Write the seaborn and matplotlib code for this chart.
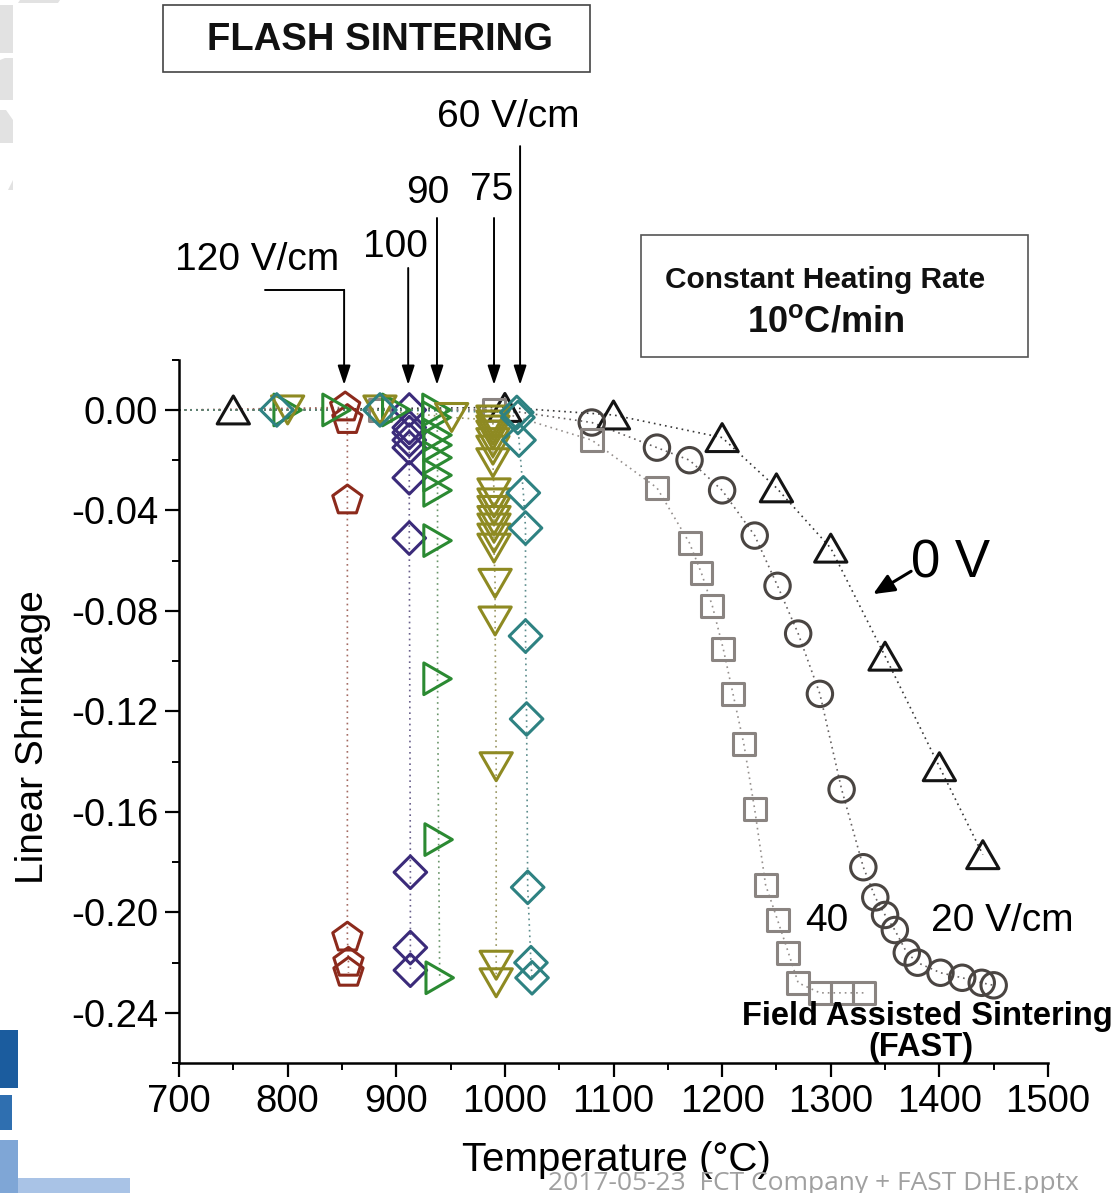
import numpy as np
import pandas as pd
import matplotlib
matplotlib.use("Agg")
import matplotlib.pyplot as plt
import seaborn as sns
from matplotlib.path import Path
from matplotlib.markers import MarkerStyle
from matplotlib.patches import Rectangle, Polygon
from matplotlib.ticker import MultipleLocator

# ---------------- data (temperature in °C, linear shrinkage) ----------------
# first "lead" points of each series only carry the dotted line (no marker)
t_0v = [700, 750, 1000, 1100, 1200, 1250, 1300, 1350, 1400, 1440]
s_0v = [0.000, 0.000, 0.001, -0.002, -0.011, -0.031, -0.055, -0.098, -0.142, -0.177]

t_20 = [700, 1000, 1080, 1140, 1170, 1200, 1230, 1251, 1270, 1290, 1310, 1330,
        1341, 1350, 1359, 1370, 1380, 1401, 1421, 1439, 1450]
s_20 = [0.000, 0.000, -0.005, -0.015, -0.020, -0.032, -0.050, -0.070, -0.089, -0.113,
        -0.151, -0.182, -0.194, -0.201, -0.207, -0.216, -0.220, -0.224, -0.226, -0.228, -0.229]

t_40 = [700, 885, 990, 1080, 1140, 1170, 1181, 1191, 1201, 1210, 1220, 1230, 1240,
        1251, 1261, 1270, 1290, 1310, 1331]
s_40 = [0.000, 0.000, 0.000, -0.012, -0.031, -0.053, -0.065, -0.078, -0.095, -0.113,
        -0.133, -0.159, -0.189, -0.203, -0.216, -0.228, -0.232, -0.232, -0.232]

t_60 = [700, 790, 885, 1011, 1012, 1013, 1017, 1019, 1019, 1020, 1021, 1024, 1025]
s_60 = [0.000, 0.000, 0.000, -0.001, -0.003, -0.012, -0.033, -0.047, -0.090, -0.123,
        -0.190, -0.220, -0.226]

t_75 = [700, 800, 885, 951, 989, 989, 989, 989, 989, 989, 989,
        990, 990, 990, 990, 990, 990, 990, 991, 991, 992, 992, 992]
s_75 = [0.000, 0.000, 0.000, -0.003, -0.004, -0.006, -0.008, -0.010, -0.013, -0.016, -0.021,
        -0.033, -0.037, -0.040, -0.044, -0.047, -0.051, -0.055, -0.069, -0.084, -0.142,
        -0.221, -0.228]

t_90 = [700, 800, 845, 900, 937, 937, 938, 938, 938, 938, 938, 938, 938, 939, 940]
s_90 = [0.000, 0.000, 0.000, 0.000, 0.000, -0.003, -0.010, -0.014, -0.019, -0.026,
        -0.032, -0.052, -0.107, -0.171, -0.226]

t_100 = [700, 912, 912, 912, 912, 912, 912, 912, 913, 913, 913]
s_100 = [0.000, 0.000, -0.007, -0.009, -0.012, -0.015, -0.027, -0.051, -0.184, -0.214, -0.223]

t_120 = [700, 853, 855, 855, 855, 856, 856]
s_120 = [0.000, 0.001, -0.004, -0.036, -0.210, -0.220, -0.224]

x_ticks = [700, 800, 900, 1000, 1100, 1200, 1300, 1400, 1500]
x_tick_labels = ["700", "800", "900", "1000", "1100", "1200", "1300", "1400", "1500"]
y_ticks = [0.00, -0.04, -0.08, -0.12, -0.16, -0.20, -0.24]
y_tick_labels = ["0.00", "-0.04", "-0.08", "-0.12", "-0.16", "-0.20", "-0.24"]

# ---------------- styling ----------------
sns.set_theme(style="white")
plt.rcParams["font.family"] = ["Liberation Sans", "DejaVu Sans"]
plt.rcParams["mathtext.fontset"] = "custom"
plt.rcParams["mathtext.rm"] = "Liberation Sans"
plt.rcParams["mathtext.bf"] = "Liberation Sans:bold"
SANS = ["Liberation Sans", "DejaVu Sans"]

W, H = 1118, 1193
fig = plt.figure(figsize=(W / 100, H / 100), dpi=100)
fig.patch.set_facecolor("white")


def fx(px):
    return px / W


def fy(py):
    return 1 - py / H


ax = fig.add_axes([fx(179), fy(1063.2), 869 / W, 703.5 / H])
ax.set_facecolor("white")


def tri(kind):
    if kind == "up":
        v = [(0, 0.433), (-0.5, -0.433), (0.5, -0.433), (0, 0.433)]
    elif kind == "down":
        v = [(0, -0.433), (-0.5, 0.433), (0.5, 0.433), (0, -0.433)]
    else:  # right
        v = [(0.433, 0), (-0.433, 0.5), (-0.433, -0.5), (0.433, 0)]
    return MarkerStyle(Path(v, [1, 2, 2, 79]))


series = [
    # t, s, lead, marker, size, color, line color
    (t_0v, s_0v, 1, tri("up"), 540, "#141414", "#222222"),
    (t_20, s_20, 2, "o", 335, "#4a4542", "#555050"),
    (t_40, s_40, 1, "s", 250, "#8a8481", "#8a8481"),
    (t_120, s_120, 1, "p", 490, "#8c2a1c", "#9a5a50"),
    (t_100, s_100, 1, "D", 275, "#3b2b7a", "#5a5080"),
    (t_90, s_90, 1, tri("right"), 520, "#2b8a32", "#5a8a5a"),
    (t_75, s_75, 1, tri("down"), 540, "#8e8a22", "#8e8a50"),
    (t_60, s_60, 1, "D", 275, "#2e8282", "#4a8080"),
]

for t, s, lead, mk, size, col, lcol in series:
    df = pd.DataFrame({"T": t, "S": s})
    sns.lineplot(data=df, x="T", y="S", sort=False, estimator=None, ax=ax,
                 color=lcol, linewidth=1.2, linestyle=(0, (1, 2.4)), alpha=0.9, zorder=2)

for t, s, lead, mk, size, col, lcol in series:
    dm = pd.DataFrame({"T": t[lead:], "S": s[lead:]})
    sns.scatterplot(data=dm, x="T", y="S", ax=ax, marker=mk, s=size,
                    facecolor="none", edgecolor=col, linewidth=2.2, zorder=3,
                    clip_on=False)

ax.set_xlim(700, 1500)
ax.set_ylim(-0.26, 0.02)
ax.set_xticks(x_ticks)
ax.set_xticklabels(x_tick_labels, fontfamily=SANS, fontsize=27.5)
ax.set_yticks(y_ticks)
ax.set_yticklabels(y_tick_labels, fontfamily=SANS, fontsize=27.5)
ax.xaxis.set_minor_locator(MultipleLocator(50))
ax.yaxis.set_minor_locator(MultipleLocator(0.02))
ax.tick_params(axis="both", which="major", direction="out", length=10, width=1.6,
               color="black", labelcolor="black", pad=5, bottom=True, left=True)
ax.tick_params(axis="both", which="minor", direction="out", length=5, width=1.4,
               color="black", bottom=True, left=True)
for side in ["top", "right"]:
    ax.spines[side].set_visible(False)
for side in ["left", "bottom"]:
    ax.spines[side].set_color("black")
    ax.spines[side].set_linewidth(1.8)
ax.grid(False)

ax.set_xlabel("Temperature (°C)", fontfamily=SANS, fontsize=29, color="black")
ax.set_ylabel("Linear Shrinkage", fontfamily=SANS, fontsize=28, color="black")
ax.xaxis.set_label_coords((616 - 179) / 869, (1063 - 1160) / 703.5)
ax.xaxis.label.set_va("center")
ax.yaxis.set_label_coords((33 - 179) / 869, (1063 - 737) / 703.5)
ax.yaxis.label.set_va("center")

# ---------------- annotations ----------------
lab_kw = dict(fontsize=28, color="black", ha="center", va="center",
              annotation_clip=False)
arrow_kw = dict(arrowstyle="-|>,head_length=0.9,head_width=0.3", color="black",
                lw=1.4, mutation_scale=13, shrinkA=0, shrinkB=0)

ax.annotate("120 V/cm", xy=(772, 0.0597), **lab_kw)
ax.annotate("100", xy=(899, 0.0649), **lab_kw)
ax.annotate("90", xy=(929, 0.0864), **lab_kw)
ax.annotate("75", xy=(988, 0.0876), **lab_kw)
ax.annotate("60 V/cm", xy=(1003, 0.1166), **lab_kw)

ax.plot([779, 852], [0.0478, 0.0478], color="black", lw=1.4, clip_on=False)
for xa, ytop in [(852, 0.0478), (911, 0.0565), (937.5, 0.0764), (990, 0.0764),
                 (1014, 0.105)]:
    ax.annotate("", xy=(xa, 0.010), xytext=(xa, ytop), arrowprops=arrow_kw,
                annotation_clip=False)

ax.annotate("0 V", xy=(1410, -0.061), fontsize=38, ha="center", va="center",
            color="black", annotation_clip=False)
ax.annotate("", xy=(1339, -0.0733), xytext=(1374, -0.0642),
            arrowprops=dict(arrowstyle="-|>,head_length=0.8,head_width=0.35",
                            color="black", lw=2.2, mutation_scale=16,
                            shrinkA=0, shrinkB=0), annotation_clip=False)
ax.annotate("40", xy=(1296, -0.2034), **lab_kw)
ax.annotate("20 V/cm", xy=(1458, -0.2034), **lab_kw)
ax.annotate("Field Assisted Sintering", xy=(1389, -0.2416), fontsize=23.5,
            fontweight="bold", ha="center", va="center", color="black",
            annotation_clip=False)
ax.annotate("(FAST)", xy=(1383, -0.2539), fontsize=23.5, fontweight="bold",
            ha="center", va="center", color="black", annotation_clip=False)

# boxed titles (figure coordinates)
fig.add_artist(Rectangle((fx(163), fy(72)), 427 / W, 67 / H, transform=fig.transFigure,
                         fill=False, lw=1.2, ec="#444444"))
fig.text(fx(380), fy(40), "FLASH SINTERING", fontsize=27.5, fontweight="bold",
         ha="center", va="center", color="#111111")
fig.add_artist(Rectangle((fx(641), fy(357)), 387 / W, 122 / H, transform=fig.transFigure,
                         fill=False, lw=1.2, ec="#555555"))
fig.text(fx(825), fy(280), "Constant Heating Rate", fontsize=21.5, fontweight="bold",
         ha="center", va="center", color="#111111")
fig.text(fx(826), fy(322), r"10$^{\mathbf{o}}$C/min", fontsize=26, fontweight="bold",
         ha="center", va="center", color="#111111")

# slide decorations
for pts in [[(0, 5), (13, 5), (13, 53), (0, 53)],
            [(0, 60), (5, 58), (13, 58), (13, 100), (0, 100)],
            [(0, 110), (6, 110), (13, 120), (13, 143), (0, 143)],
            [(8, 190), (13, 180), (13, 190)],
            [(20, 0), (60, 0), (58, 3), (18, 3)]]:
    fig.add_artist(Polygon([(fx(a), fy(b)) for a, b in pts], closed=True,
                           transform=fig.transFigure, fc="#e2e2e2", ec="none", zorder=0))
for pts, c in [([(0, 1030), (18, 1030), (18, 1088), (0, 1088)], "#1b5c9e"),
               ([(0, 1095), (12, 1095), (12, 1130), (0, 1130)], "#2f6fb0"),
               ([(0, 1140), (18, 1140), (18, 1193), (0, 1193)], "#7fa6d6"),
               ([(18, 1178), (130, 1178), (130, 1193), (18, 1193)], "#a9c3e6")]:
    fig.add_artist(Polygon([(fx(a), fy(b)) for a, b in pts], closed=True,
                           transform=fig.transFigure, fc=c, ec="none", zorder=0))
fig.text(fx(548), fy(1184), "2017-05-23  FCT Company + FAST DHE.pptx", fontsize=19,
         family=["Open Sans", "DejaVu Sans"], color="#a0a0a0", ha="left",
         va="center", zorder=0)

fig.savefig("out.png", dpi=100, facecolor="white")
